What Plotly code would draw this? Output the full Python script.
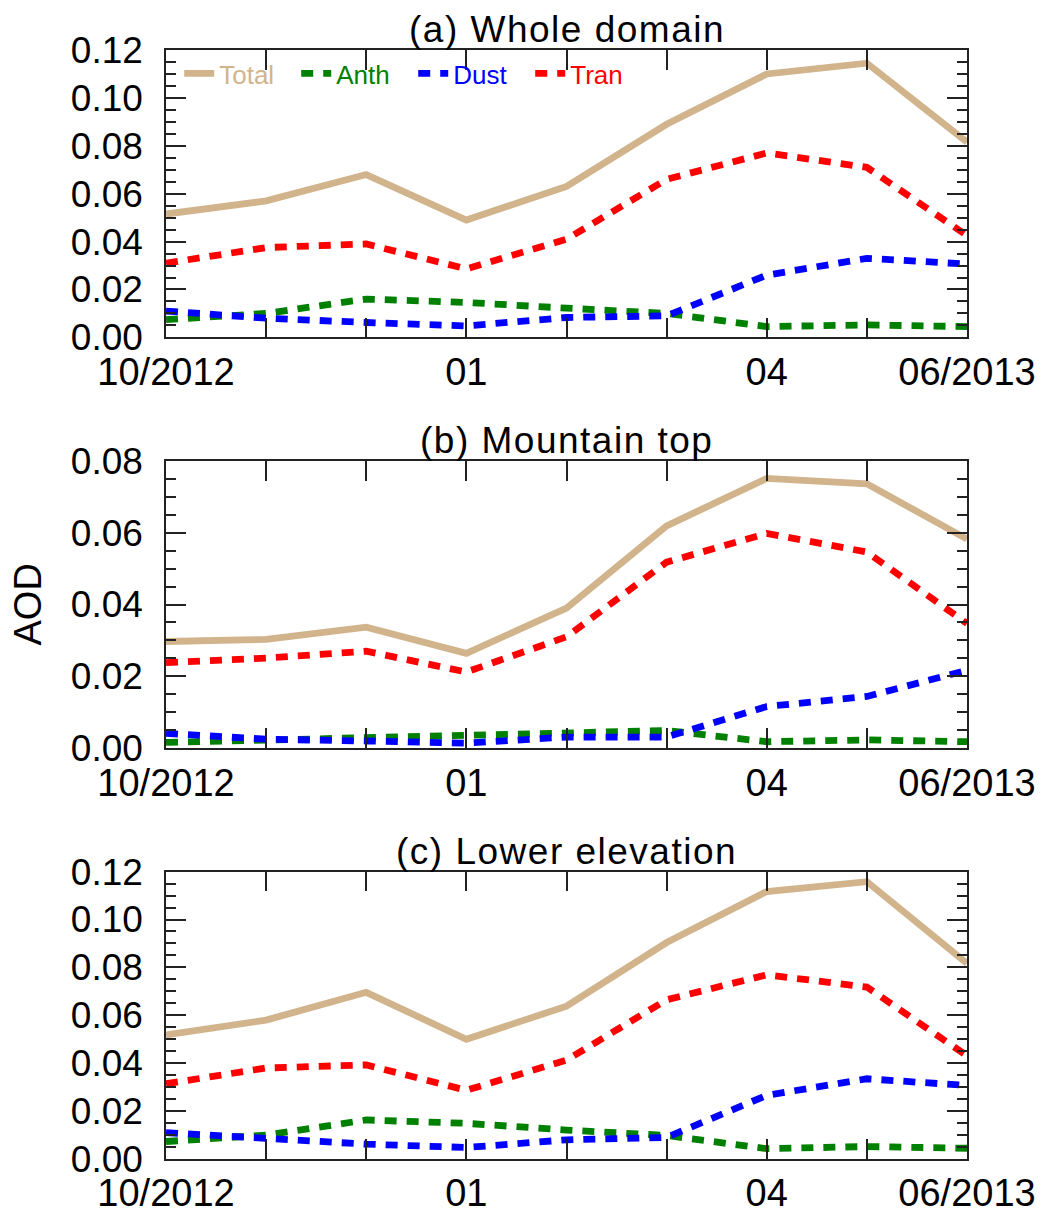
import plotly.graph_objects as go

months = [0, 1, 2, 3, 4, 5, 6, 7, 8]
tick_text = ["10/2012", "", "", "01", "", "", "04", "", "06/2013"]

# (a) Whole domain
a_total = [0.0515, 0.057, 0.068, 0.049, 0.063, 0.089, 0.110, 0.1145, 0.0815]
a_anth = [0.0074, 0.010, 0.016, 0.0146, 0.0122, 0.010, 0.0045, 0.0052, 0.0045]
a_dust = [0.011, 0.008, 0.0062, 0.0048, 0.0083, 0.009, 0.026, 0.033, 0.0306]
a_tran = [0.031, 0.0375, 0.039, 0.0286, 0.041, 0.066, 0.077, 0.071, 0.0425]

# (b) Mountain top
b_total = [0.0297, 0.0303, 0.0337, 0.0264, 0.039, 0.0619, 0.0751, 0.0736, 0.0582]
b_anth = [0.0016, 0.0022, 0.0029, 0.0034, 0.0043, 0.0049, 0.0018, 0.0023, 0.0018]
b_dust = [0.0041, 0.0025, 0.002, 0.0014, 0.0031, 0.0031, 0.0116, 0.0144, 0.0217]
b_tran = [0.0238, 0.0251, 0.027, 0.0212, 0.031, 0.0518, 0.0598, 0.0546, 0.0347]

# (c) Lower elevation
c_total = [0.0518, 0.058, 0.0696, 0.050, 0.0638, 0.0904, 0.1117, 0.1158, 0.0817]
c_anth = [0.0073, 0.010, 0.0163, 0.0149, 0.0121, 0.0098, 0.0043, 0.0052, 0.0045]
c_dust = [0.011, 0.0083, 0.0062, 0.0048, 0.008, 0.009, 0.0266, 0.0335, 0.0307]
c_tran = [0.0314, 0.038, 0.0393, 0.0287, 0.0413, 0.0665, 0.0769, 0.0718, 0.0431]

panel_titles = ["(a) Whole domain", "(b) Mountain top", "(c) Lower elevation"]
series_names = ["Total", "Anth", "Dust", "Tran"]
series_colors = ["#D2B48C", "#008000", "#0000FF", "#FF0000"]
series_dash = ["solid", "12px,10px", "12px,10px", "12px,10px"]
y_ranges = [[0, 0.12], [0, 0.08], [0, 0.12]]

panels = [
    [a_total, a_anth, a_dust, a_tran],
    [b_total, b_anth, b_dust, b_tran],
    [c_total, c_anth, c_dust, c_tran],
]

FONT = "Liberation Sans, Arial, Helvetica, sans-serif"
W, H = 1057, 1226
ML, MR, MT, MB = 166, 90, 50, 53
plot_h = H - MT - MB
panel_px = [(50, 341), (466, 757), (882, 1173)]


def dom(top, bottom):
    return [(H - MB - bottom) / plot_h, (H - MB - top) / plot_h]


fig = go.Figure()
for i, data in enumerate(panels):
    xa = "x" if i == 0 else f"x{i+1}"
    ya = "y" if i == 0 else f"y{i+1}"
    for j, vals in enumerate(data):
        fig.add_trace(go.Scatter(
            x=months, y=vals, mode="lines",
            name=f"<span style='color:{series_colors[j]}'>{series_names[j]}</span>",
            line=dict(color=series_colors[j], width=6.8, dash=series_dash[j]),
            xaxis=xa, yaxis=ya, showlegend=(i == 0),
        ))

axis_col = "#222222"
layout = dict(
    width=W, height=H,
    margin=dict(l=ML, r=MR, t=MT, b=MB),
    paper_bgcolor="white", plot_bgcolor="white",
    font=dict(family=FONT, size=37, color="black"),
    showlegend=True,
    legend=dict(
        orientation="h", x=0.0165, y=1.0, xanchor="left", yanchor="top",
        bgcolor="rgba(0,0,0,0)", font=dict(size=26, family=FONT),
        entrywidth=72, entrywidthmode="pixels", tracegroupgap=0,
    ),
    annotations=[],
)

for i in range(3):
    xk = "xaxis" if i == 0 else f"xaxis{i+1}"
    yk = "yaxis" if i == 0 else f"yaxis{i+1}"
    ya = "y" if i == 0 else f"y{i+1}"
    top, bottom = panel_px[i]
    layout[xk] = dict(
        domain=[0, 1], anchor=ya, range=[0, 8],
        tickmode="array", tickvals=months, ticktext=tick_text,
        ticks="inside", ticklen=20, tickwidth=1.5, tickcolor=axis_col,
        showline=True, linecolor=axis_col, linewidth=1.5, mirror="ticks",
        showgrid=False, zeroline=False,
        tickfont=dict(size=38, family=FONT),
    )
    if i > 0:
        layout[xk]["matches"] = "x"
    layout[yk] = dict(
        domain=dom(top, bottom), anchor="x" if i == 0 else f"x{i+1}",
        range=y_ranges[i], dtick=0.02, tick0=0, tickformat=".2f",
        ticks="inside", ticklen=20, tickwidth=1.5, tickcolor=axis_col,
        minor=dict(dtick=0.005, ticks="inside", ticklen=10, tickwidth=1.5, tickcolor=axis_col),
        showline=True, linecolor=axis_col, linewidth=1.5, mirror="ticks",
        showgrid=False, zeroline=False, ticklabelstandoff=14,
        tickfont=dict(size=37, family=FONT),
    )
    layout["annotations"].append(dict(
        text=f"<span style='letter-spacing:1.5px'>{panel_titles[i]}</span>",
        xref=("x" if i == 0 else f"x{i+1}") + " domain",
        yref=("y" if i == 0 else f"y{i+1}") + " domain",
        x=0.5, y=1, xanchor="center", yanchor="bottom", yshift=-2,
        showarrow=False, font=dict(size=37, family=FONT, color="black"),
    ))

layout["annotations"].append(dict(
    text="AOD", textangle=-90, xref="paper", yref="y2 domain",
    x=(27 - ML) / (W - ML - MR), y=0.5, xanchor="center", yanchor="middle",
    showarrow=False, font=dict(size=38, family=FONT, color="black"),
))

fig.update_layout(**layout)
fig.write_html("out.html")
